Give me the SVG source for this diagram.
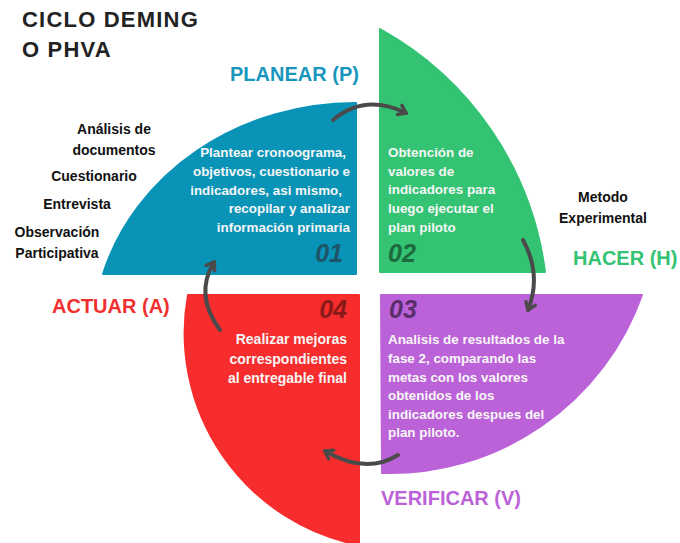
<svg xmlns="http://www.w3.org/2000/svg" width="680" height="543" viewBox="0 0 680 543">
<defs>
<style>
text{font-family:"Liberation Sans",Arial,sans-serif;font-weight:bold}
.title{font-size:22px;fill:#222;letter-spacing:1.2px}
.phase{font-size:20px}
.side{font-size:14px;fill:#111}
.body{font-size:13.4px;fill:#f6f6f6}
.num{font-size:25px;font-style:italic}
.arrow{fill:none;stroke:#4a4a4a;stroke-width:4;stroke-linecap:round}
</style>
<marker id="head" viewBox="0 0 14 14" refX="9" refY="7" markerWidth="14" markerHeight="14" markerUnits="userSpaceOnUse" orient="auto">
<path d="M2,2 L9,7 L2,12" fill="none" stroke="#4a4a4a" stroke-width="3.5" stroke-linecap="round" stroke-linejoin="round"/>
</marker>
</defs>
<rect width="680" height="543" fill="#ffffff"/>
<g id="title">
<text class="title" x="22" y="27">CICLO DEMING</text>
<text class="title" x="22" y="57">O PHVA</text>
</g>
<g id="planear">
<path d="M103,274 A263,237 0 0 1 356,103 L356,274 Z" fill="#0993b7" stroke="#0993b7" stroke-width="2" stroke-linejoin="round"/>
<text class="phase" x="230" y="81" fill="#1996bd">PLANEAR (P)</text>
<g class="body" text-anchor="end">
<text x="346" y="157">Plantear cronoograma,</text>
<text x="350" y="176">objetivos, cuestionario e</text>
<text x="342" y="195">indicadores, asi mismo,</text>
<text x="350" y="213">recopilar y analizar</text>
<text x="350" y="232">información primaria</text>
</g>
<text class="num" x="343" y="262" text-anchor="end" fill="#1f5468">01</text>
</g>
<g id="tecnicas" class="side" text-anchor="middle">
<text class="side" x="114" y="134">Análisis de</text>
<text class="side" x="114" y="155">documentos</text>
<text class="side" x="94" y="181">Cuestionario</text>
<text class="side" x="77" y="209">Entrevista</text>
<text class="side" x="57" y="237">Observación</text>
<text class="side" x="57" y="258">Participativa</text>
</g>
<g id="hacer">
<path d="M380,29 A325,325 0 0 1 545,272 L380,272 Z" fill="#33c373" stroke="#33c373" stroke-width="2" stroke-linejoin="round"/>
<g class="body">
<text x="388" y="157">Obtención de</text>
<text x="388" y="176">valores de</text>
<text x="388" y="194">indicadores para</text>
<text x="388" y="213">luego ejecutar el</text>
<text x="388" y="232">plan piloto</text>
</g>
<text class="num" x="388" y="262" fill="#1d6a3d">02</text>
<text class="side" x="603" y="202" text-anchor="middle">Metodo</text>
<text class="side" x="603" y="223" text-anchor="middle">Experimental</text>
<text class="phase" x="573" y="265" fill="#33c373">HACER (H)</text>
</g>
<g id="verificar">
<path d="M381,295 L642,295 A268,268 0 0 1 382,473 Z" fill="#bc62d8" stroke="#bc62d8" stroke-width="2" stroke-linejoin="round"/>
<text class="num" x="389" y="318" fill="#5a2e6a">03</text>
<g class="body">
<text x="388" y="344">Analisis de resultados de la</text>
<text x="388" y="363">fase 2, comparando las</text>
<text x="388" y="382">metas con los valores</text>
<text x="388" y="400">obtenidos de los</text>
<text x="388" y="419">indicadores despues del</text>
<text x="388" y="437">plan piloto.</text>
</g>
<text class="phase" x="381" y="505" fill="#bc62d8">VERIFICAR (V)</text>
</g>
<g id="actuar">
<path d="M359,295 L359,545 A216,216 0 0 1 188,295 Z" fill="#f72c2c" stroke="#f72c2c" stroke-width="2" stroke-linejoin="round"/>
<text class="num" x="347" y="318" text-anchor="end" fill="#8a1a1a">04</text>
<g class="body" text-anchor="end" style="font-size:14px">
<text x="347" y="344">Realizar mejoras</text>
<text x="347" y="364">correspondientes</text>
<text x="347" y="383">al entregable final</text>
</g>
<text class="phase" x="52" y="313" fill="#f0302f">ACTUAR (A)</text>
</g>
<g id="connectors">
<path class="arrow" d="M333,120 Q365,93 406,113" marker-end="url(#head)"/>
<path class="arrow" d="M523,240 Q542,275 528,310" marker-end="url(#head)"/>
<path class="arrow" d="M398,455 Q366,475 325,451" marker-end="url(#head)"/>
<path class="arrow" d="M220,330 Q194,295 214,262" marker-end="url(#head)"/>
</g>
</svg>
